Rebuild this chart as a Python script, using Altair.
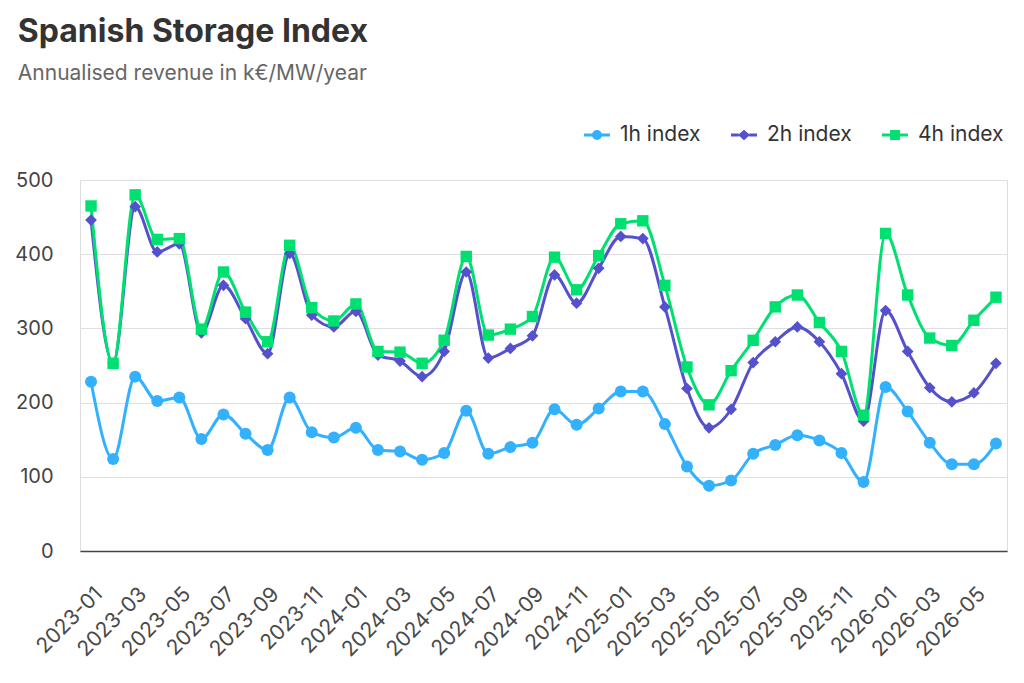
import altair as alt
import pandas as pd

months = [f"{y}-{m:02d}" for y in range(2023, 2027) for m in range(1, 13)][:42]

series_names = ["1h index", "2h index", "4h index"]
colors = ["#33B1FF", "#5550CC", "#00E070"]
point_shapes = ["circle", "diamond", "square"]
point_sizes = [144, 130, 160]

idx_1h = [228, 124, 235, 202, 207, 151, 184, 158, 136, 207, 160, 153, 166, 136,
          134, 123, 132, 189, 131, 140, 146, 191, 170, 192, 215, 215, 171, 114,
          88, 95, 131, 143, 156, 149, 132, 93, 221, 188, 146, 117, 117, 145]
idx_2h = [446, 253, 464, 403, 414, 294, 358, 313, 266, 401, 318, 302, 323, 264,
          256, 235, 269, 376, 260, 273, 290, 372, 334, 381, 424, 421, 329, 219,
          166, 191, 254, 282, 302, 282, 239, 175, 324, 269, 220, 201, 213, 253]
idx_4h = [465, 253, 480, 420, 421, 299, 376, 322, 282, 412, 328, 310, 333, 269,
          268, 253, 284, 397, 291, 299, 316, 396, 352, 398, 441, 445, 358, 248,
          197, 243, 284, 329, 345, 308, 269, 183, 428, 345, 287, 277, 311, 342]

y_ticks = [0, 100, 200, 300, 400, 500]

rows = []
for name, vals in zip(series_names, [idx_1h, idx_2h, idx_4h]):
    for m, v in zip(months, vals):
        rows.append({"month": m, "series": name, "value": v})
df = pd.DataFrame(rows)

FONT = "Inter"

x_enc = alt.X(
    "month:N", sort=months, title=None,
    scale=alt.Scale(type="point", padding=0.5),
    axis=alt.Axis(values=months[::2], labelAngle=-45, labelAlign="right",
                  labelBaseline="top", labelPadding=32, ticks=False, grid=False,
                  domain=True, domainColor="#444", domainWidth=1.5,
                  labelFont=FONT, labelFontSize=21, labelColor="#4a4a4a"),
)
y_enc = alt.Y(
    "value:Q", title=None,
    scale=alt.Scale(domain=[0, 500], nice=False),
    axis=alt.Axis(values=y_ticks, ticks=False, domain=False, grid=True,
                  gridColor="#dedee3", gridWidth=1, labelPadding=27,
                  labelFont=FONT, labelFontSize=20, labelColor="#444"),
)

color_scale = alt.Scale(domain=series_names, range=colors)

lines = alt.Chart(df).mark_line(interpolate="monotone", strokeWidth=3).encode(
    x=x_enc, y=y_enc,
    color=alt.Color("series:N", scale=color_scale, legend=None),
)

points = alt.Chart(df).mark_point(filled=True, opacity=1).encode(
    x=x_enc, y=y_enc,
    color=alt.Color("series:N", scale=color_scale, legend=None),
    shape=alt.Shape("series:N", scale=alt.Scale(domain=series_names, range=point_shapes), legend=None),
    size=alt.Size("series:N", scale=alt.Scale(domain=series_names, range=point_sizes), legend=None),
)

legend_symbols = [
    "M-1,-0.11L-0.3,-0.11L-0.3,0.11L-1,0.11Z M0.3,-0.11L1,-0.11L1,0.11L0.3,0.11Z "
    "M-0.38,0A0.38,0.38 0 1,1 0.38,0A0.38,0.38 0 1,1 -0.38,0Z",
    "M-1,-0.11L-0.4,-0.11L-0.4,0.11L-1,0.11Z M0.4,-0.11L1,-0.11L1,0.11L0.4,0.11Z "
    "M-0.46,0L0,-0.4L0.46,0L0,0.4Z",
    "M-1,-0.11L-0.36,-0.11L-0.36,0.11L-1,0.11Z M0.36,-0.11L1,-0.11L1,0.11L0.36,0.11Z "
    "M-0.38,-0.38L0.38,-0.38L0.38,0.38L-0.38,0.38Z",
]

legend_def = alt.Legend(
    orient="none", legendX=504, legendY=-58, direction="horizontal", title=None,
    labelFont=FONT, labelFontSize=21, labelColor="#333", symbolSize=676,
    symbolStrokeWidth=0, symbolOpacity=1, labelOffset=10, columnPadding=30,
)

legend_layer = alt.Chart(df).transform_filter("datum.value < 0").mark_point(
    filled=True, size=676, opacity=1
).encode(
    x=x_enc, y=y_enc,
    color=alt.Color("series:N", scale=color_scale, legend=legend_def),
    shape=alt.Shape("series:N", scale=alt.Scale(domain=series_names, range=legend_symbols), legend=legend_def),
)

chart = alt.layer(lines, points, legend_layer).resolve_scale(
    color="independent", shape="independent"
).properties(
    width=927, height=371,
    autosize=alt.AutoSizeParams(type="none"),
    padding={"left": 72, "top": 172, "right": 9, "bottom": 120},
    title=alt.Title(
        "Spanish Storage Index",
        subtitle="Annualised revenue in k€/MW/year",
        anchor="start", frame="bounds", orient="top", dx=3,
        font=FONT, fontSize=32, fontWeight="bold", color="#333",
        subtitleFont=FONT, subtitleFontSize=21, subtitleColor="#666",
        subtitlePadding=14, offset=37,
    ),
).configure_view(stroke=None).configure(background="white")

chart.save("out.html", embed_options={"renderer": "svg", "actions": False})
